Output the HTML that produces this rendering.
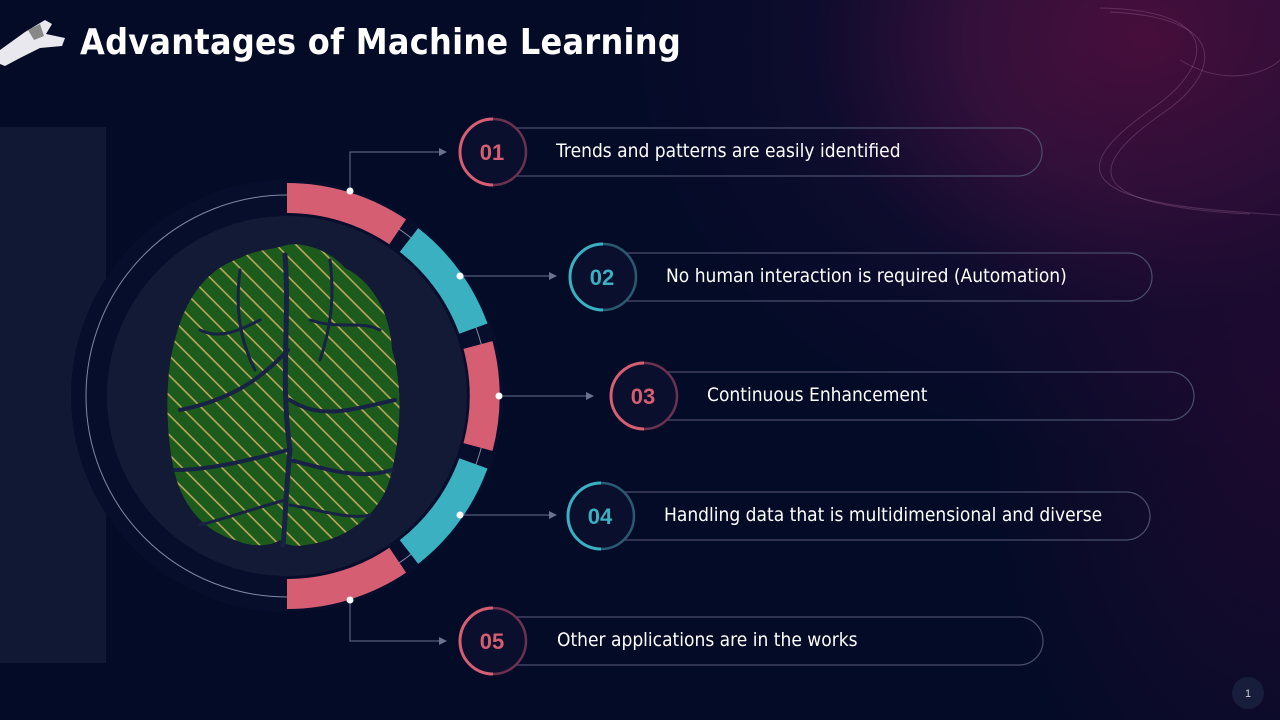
<!DOCTYPE html>
<html><head><meta charset="utf-8"><style>
html,body{margin:0;padding:0}
body{width:1280px;height:720px;overflow:hidden;position:relative;background:#040b27;font-family:"Liberation Sans",sans-serif}
.bg{position:absolute;inset:0;background:radial-gradient(ellipse 520px 420px at 1150px 40px,#4a0e3c 0%,#32103a 35%,rgba(20,12,50,0.6) 65%,rgba(4,11,39,0) 100%)}
.bg2{position:absolute;inset:0;background:radial-gradient(ellipse 300px 500px at 1280px 400px,rgba(40,10,50,0.7),rgba(4,11,39,0) 100%)}
h1{position:absolute;left:80px;top:22px;margin:0;color:#fff;font-size:36px;font-weight:bold;letter-spacing:0.3px;font-family:"DejaVu Sans","Liberation Sans",sans-serif;transform:scaleX(0.89);transform-origin:left}
.txt{position:absolute;color:#fff;font-size:19px;font-family:"DejaVu Sans","Liberation Sans",sans-serif;transform:scaleX(0.9);transform-origin:left}
</style></head><body>
<div class="bg"></div><div class="bg2"></div>
<svg width="1280" height="720" style="position:absolute;left:0;top:0">
<defs>
<pattern id="pcb" width="14" height="14" patternUnits="userSpaceOnUse" patternTransform="rotate(45)">
<rect width="14" height="14" fill="#1d5b1c"/><rect x="0" y="5" width="14" height="1.6" fill="#b8a85a"/>
</pattern>
</defs>
<g fill="none" stroke="#c890c0" stroke-opacity="0.25">
<path d="M1100 8 C1230 10,1210 70,1150 110 C1080 160,1060 200,1240 212 L1280 215"/>
<path d="M1110 12 C1240 18,1215 80,1160 115 C1090 165,1075 205,1250 214"/>
<path d="M1180 60 C1230 90,1270 70,1280 60"/>
</g>
<path d="M0 50 L25 32 L45 20 L52 24 L46 34 L65 38 L62 46 L40 48 L20 58 L5 66 L0 64Z" fill="#e8e8ee"/>
<path d="M28 30 L40 24 L44 36 L34 40Z" fill="#888"/>
<rect x="0" y="127" width="106" height="536" fill="#101834"/>
<circle cx="287" cy="396" r="216" fill="#070e2c"/>
<circle cx="287" cy="396" r="201" fill="none" stroke="#8088a8" stroke-width="1"/>
<circle cx="287" cy="396" r="180" fill="#121a36"/>
<g fill="none" stroke-width="30">
<path d="M287 198 A198 198 0 0 1 397.7 231.8" stroke="#d65e72"/>
<path d="M409.0 240.0 A198 198 0 0 1 473.4 328.6" stroke="#3ab0c0"/>
<path d="M478.0 345.0 A198 198 0 0 1 478.0 447.0" stroke="#d65e72"/>
<path d="M473.4 463.4 A198 198 0 0 1 409.0 552.0" stroke="#3ab0c0"/>
<path d="M397.7 560.2 A198 198 0 0 1 287 594" stroke="#d65e72"/>
</g>
<path d="M283 246 C300 240,330 250,345 268 C370 280,390 310,392 350 C402 380,402 430,392 470 C385 510,350 540,305 545 C295 547,285 545,280 540 C270 547,250 547,235 540 C200 530,178 500,172 460 C165 420,166 370,175 340 C185 300,205 270,240 258 C255 250,270 250,283 246Z" fill="url(#pcb)"/>
<g fill="none" stroke="#172244" stroke-width="5" stroke-linecap="round">
<path d="M285 255 C290 320,280 380,290 450 C285 500,285 530,283 545"/>
<path d="M288 350 C260 380,230 400,180 410" stroke-width="4"/>
<path d="M290 400 C320 420,350 410,395 400" stroke-width="4"/>
<path d="M288 450 C250 460,210 470,175 470" stroke-width="4"/>
<path d="M290 460 C330 470,360 480,392 470" stroke-width="4"/>
<path d="M240 270 C235 310,240 340,255 370" stroke-width="3"/>
<path d="M330 260 C335 300,330 330,320 360" stroke-width="3"/>
<path d="M285 500 C250 510,220 520,200 525" stroke-width="3"/>
<path d="M290 505 C320 510,350 520,370 515" stroke-width="3"/>
<path d="M200 330 C220 340,240 330,260 320" stroke-width="3"/>
<path d="M310 320 C340 330,360 320,380 330" stroke-width="3"/>
</g>
<g stroke="#6a7290" stroke-width="1" fill="none">
<path d="M350 191 V152 H443"/><path d="M460 276 H553"/><path d="M499 396 H590"/><path d="M460 515 H553"/><path d="M350 600 V641 H443"/>
</g>
<g fill="#6a7290">
<path d="M447 152 l-8 -4 v8z"/><path d="M557 276 l-8 -4 v8z"/><path d="M594 396 l-8 -4 v8z"/><path d="M557 515 l-8 -4 v8z"/><path d="M447 641 l-8 -4 v8z"/>
</g>
<g fill="#fff"><circle cx="350" cy="191" r="3.5"/><circle cx="460" cy="276" r="3.5"/><circle cx="499" cy="396" r="3.5"/><circle cx="460" cy="515" r="3.5"/><circle cx="350" cy="600" r="3.5"/></g>
<g fill="none" stroke="#4a4e6c" stroke-width="1.2">
<path d="M493 128 H1018 A24 24 0 0 1 1018 176 H493"/>
<path d="M603 253 H1128 A24 24 0 0 1 1128 301 H603"/>
<path d="M644 372 H1170 A24 24 0 0 1 1170 420 H644"/>
<path d="M601 492 H1126 A24 24 0 0 1 1126 540 H601"/>
<path d="M493 617 H1019 A24 24 0 0 1 1019 665 H493"/>
</g>
<g stroke-width="2.5">
<circle cx="493" cy="152" r="33" fill="#0a0f2e" stroke="#6a3250"/>
<circle cx="603" cy="277" r="33" fill="#0a0f2e" stroke="#2a5a70"/>
<circle cx="644" cy="396" r="33" fill="#0a0f2e" stroke="#6a3250"/>
<circle cx="601" cy="516" r="33" fill="#0a0f2e" stroke="#2a5a70"/>
<circle cx="493" cy="641" r="33" fill="#0a0f2e" stroke="#6a3250"/>
</g>
<g fill="none" stroke-width="3">
<path d="M493 185 A33 33 0 0 1 493 119" stroke="#d65e72"/>
<path d="M603 310 A33 33 0 0 1 603 244" stroke="#3ab0c0"/>
<path d="M644 429 A33 33 0 0 1 644 363" stroke="#d65e72"/>
<path d="M601 549 A33 33 0 0 1 601 483" stroke="#3ab0c0"/>
<path d="M493 674 A33 33 0 0 1 493 608" stroke="#d65e72"/>
</g>
<g font-family="Liberation Sans,sans-serif" font-weight="bold" font-size="22" text-anchor="middle">
<text x="492" y="160" fill="#d65e72">01</text>
<text x="602" y="285" fill="#3ab0c0">02</text>
<text x="643" y="404" fill="#d65e72">03</text>
<text x="600" y="524" fill="#3ab0c0">04</text>
<text x="492" y="649" fill="#d65e72">05</text>
</g>
<circle cx="1248" cy="693" r="16" fill="#1a2240" opacity="0.8"/>
<text x="1248" y="697" fill="#ccc" font-size="11" text-anchor="middle" font-family="Liberation Sans,sans-serif">1</text>
</svg>
<h1>Advantages of Machine Learning</h1>
<div class="txt" style="left:556px;top:140px">Trends and patterns are easily identified</div>
<div class="txt" style="left:666px;top:265px">No human interaction is required (Automation)</div>
<div class="txt" style="left:707px;top:384px">Continuous Enhancement</div>
<div class="txt" style="left:664px;top:504px">Handling data that is multidimensional and diverse</div>
<div class="txt" style="left:557px;top:629px">Other applications are in the works</div>
</body></html>
